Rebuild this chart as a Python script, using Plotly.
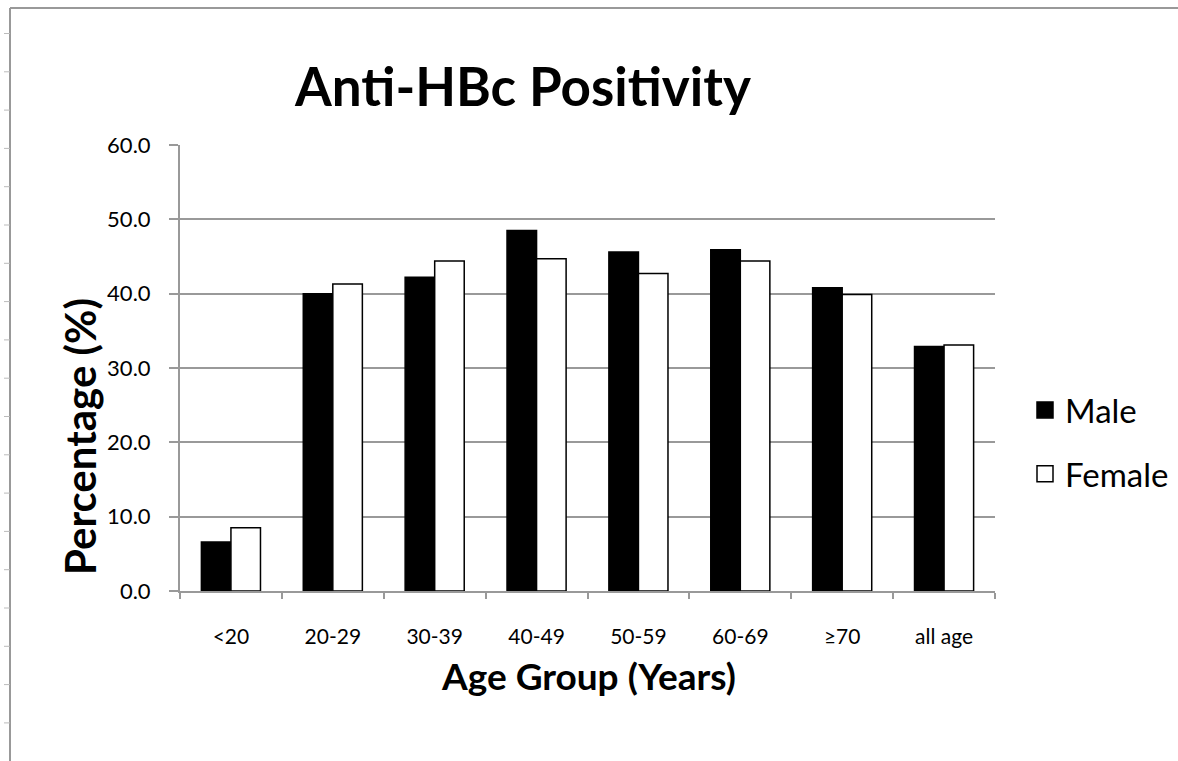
import plotly.graph_objects as go

categories = ["<20", "20-29", "30-39", "40-49", "50-59", "60-69", "≥70", "all age"]
male = [6.6, 40.0, 42.2, 48.5, 45.6, 45.9, 40.8, 32.9]
female = [8.5, 41.3, 44.4, 44.7, 42.7, 44.4, 39.9, 33.1]
y_ticks = [0, 10, 20, 30, 40, 50, 60]
y_tick_labels = ["0.0", "10.0", "20.0", "30.0", "40.0", "50.0", "60.0"]

FONT = "Lato"
W, H = 1178, 761
L, R, T, B = 180, 183, 145, 170
PW, PH = W - L - R, H - T - B


def px_x(x):
    return (x - L) / PW


def px_y(y):
    return (H - B - y) / PH


fig = go.Figure()
fig.add_trace(go.Bar(x=categories, y=male, name="Male", showlegend=False,
                     marker=dict(color="black", line=dict(color="black", width=1.5))))
fig.add_trace(go.Bar(x=categories, y=female, name="Female", showlegend=False,
                     marker=dict(color="white", line=dict(color="black", width=1.5))))
# legend entries with larger square keys
fig.add_trace(go.Scatter(x=[None], y=[None], mode="markers", name="Male", legendgroup="m",
                         marker=dict(symbol="square", size=16, color="black",
                                     line=dict(color="black", width=1.5))))
fig.add_trace(go.Scatter(x=[None], y=[None], mode="markers", name="Female", legendgroup="f",
                         marker=dict(symbol="square", size=16, color="white",
                                     line=dict(color="black", width=1.5))))

fig.update_layout(
    width=W, height=H,
    margin=dict(l=L, r=R, t=T, b=B, autoexpand=False),
    paper_bgcolor="white", plot_bgcolor="white",
    barmode="group", bargap=0.42, bargroupgap=0,
    font=dict(family=FONT, color="black"),
    title=dict(text="<b>Anti-HBc Positivity</b>", x=523 / W, xref="container", xanchor="center",
               y=1 - 87 / H, yref="container", yanchor="middle",
               font=dict(family=FONT, size=53, color="black")),
    legend=dict(x=px_x(1025), y=px_y(382), xanchor="left", yanchor="top",
                traceorder="grouped", tracegroupgap=18, itemsizing="trace",
                font=dict(family=FONT, size=33, color="black"),
                bgcolor="rgba(0,0,0,0)"),
    showlegend=True,
)

fig.update_yaxes(range=[0, 60], tickvals=y_ticks, ticktext=y_tick_labels,
                 showgrid=True, gridcolor="#999999", gridwidth=2,
                 showline=True, linecolor="#999999", linewidth=2,
                 ticks="outside", ticklen=9, tickcolor="#999999", tickwidth=2,
                 ticklabelstandoff=14, zeroline=False,
                 tickfont=dict(family=FONT, size=22, color="black"))
fig.update_xaxes(showline=True, linecolor="#999999", linewidth=2,
                 ticks="outside", ticklen=6, tickcolor="#999999", tickwidth=2, tickson="boundaries",
                 ticklabelstandoff=26,
                 tickfont=dict(family=FONT, size=21, color="black"))

# axis titles
fig.add_annotation(text="<b>Age Group (Years)</b>", xref="paper", yref="paper",
                   x=px_x(588), y=px_y(675),
                   showarrow=False, font=dict(family=FONT, size=37, color="black"),
                   xanchor="center", yanchor="middle")
fig.add_annotation(text="<b>Percentage (%)</b>", xref="paper", yref="paper",
                   x=px_x(80), y=px_y(437),
                   showarrow=False, textangle=-90, font=dict(family=FONT, size=42, color="black"),
                   xanchor="center", yanchor="middle")

# outer chart frame (screenshot border) with small ruler marks on the left
fig.add_shape(type="line", xref="paper", yref="paper",
              x0=px_x(10), x1=px_x(W + 5), y0=px_y(8), y1=px_y(8),
              line=dict(color="#999999", width=2))
fig.add_shape(type="line", xref="paper", yref="paper",
              x0=px_x(10), x1=px_x(10), y0=px_y(8), y1=px_y(H + 5),
              line=dict(color="#999999", width=2))
for k in range(20):
    yy = 33.5 + 38.3 * k
    if yy > H:
        break
    fig.add_shape(type="line", xref="paper", yref="paper",
                  x0=px_x(4), x1=px_x(10), y0=px_y(yy), y1=px_y(yy),
                  line=dict(color="#bbbbbb", width=1))

fig.write_html("out.html", post_script="document.body.style.margin='0';",
               config={"displayModeBar": False})
